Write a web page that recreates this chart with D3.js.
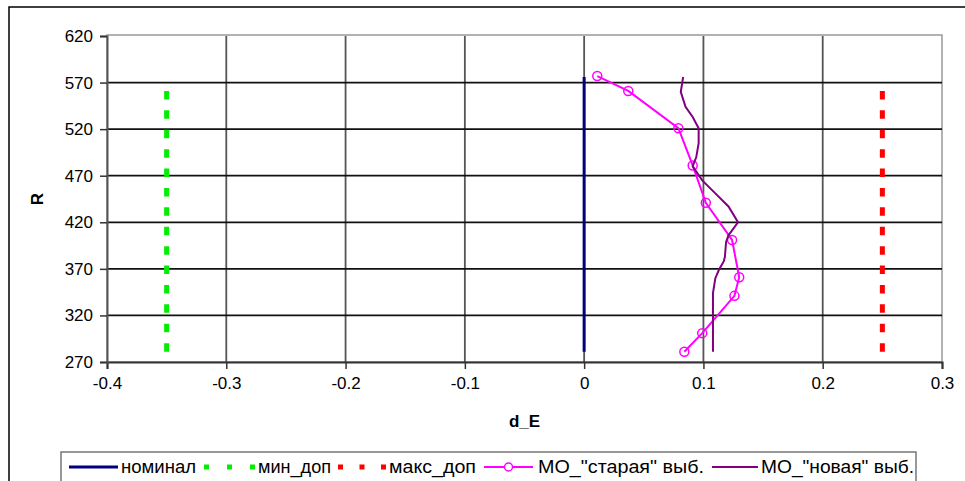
<!DOCTYPE html>
<html><head><meta charset="utf-8">
<script src="https://cdn.jsdelivr.net/npm/d3@7"></script>
<style>body{margin:0;background:#fff}svg{display:block;font-family:"Liberation Sans",Arial,sans-serif}</style>
</head><body><svg id="c" width="965" height="481"></svg>
<script>
const xTicks = [-0.4, -0.3, -0.2, -0.1, 0, 0.1, 0.2, 0.3];
const xTickLabels = ["-0.4", "-0.3", "-0.2", "-0.1", "0", "0.1", "0.2", "0.3"];
const yTicks = [270, 320, 370, 420, 470, 520, 570, 620];
const nominalE = [0, 0];
const nominalR = [281, 576];
const minE = [-0.35, -0.35];
const minR = [561, 281];
const maxE = [0.25, 0.25];
const maxR = [561, 281];
const oldR = [577, 561, 521, 481, 441, 401, 361, 341, 301, 281];
const oldE = [0.011, 0.037, 0.079, 0.091, 0.102, 0.124, 0.130, 0.126, 0.099, 0.084];
const newR = [576, 560, 544, 533, 521, 505, 490, 480, 465, 451, 437, 420, 406, 399, 383, 378, 369, 360, 344, 322, 281];
const newE = [0.083, 0.081, 0.085, 0.091, 0.096, 0.096, 0.094, 0.091, 0.099, 0.110, 0.121, 0.129, 0.121, 0.119, 0.118, 0.117, 0.113, 0.110, 0.108, 0.108, 0.108];
const legendLabels = ["номинал", "мин_доп", "макс_доп", "МО_\"старая\" выб.", "МО_\"новая\" выб."];

const svg = d3.select("#c");
const L = 107, R = 942, T = 36, B = 362;
const x = d3.scaleLinear().domain([-0.4, 0.3]).range([L, R]);
const y = d3.scaleLinear().domain([270, 620]).range([B, T]);

// outer chart border
svg.append("path").attr("d", "M9,482 L9,7 L966,7").attr("fill", "none").attr("stroke", "#000").attr("stroke-width", 1.5);

// plot border (light)
svg.append("rect").attr("x", L).attr("y", T - 1).attr("width", R - L).attr("height", B - T + 1)
  .attr("fill", "none").attr("stroke", "#999").attr("stroke-width", 1.5);

// vertical grid
svg.append("g").selectAll("line").data(xTicks.slice(1, -1)).join("line")
  .attr("x1", d => x(d)).attr("x2", d => x(d)).attr("y1", T).attr("y2", B)
  .attr("stroke", "#555").attr("stroke-width", 1.8);
// horizontal grid
svg.append("g").selectAll("line").data(yTicks.slice(1, -1)).join("line")
  .attr("x1", L).attr("x2", R).attr("y1", d => y(d)).attr("y2", d => y(d))
  .attr("stroke", "#111").attr("stroke-width", 1.8);

// axes
const xAxis = d3.axisBottom(x).tickValues(xTicks).tickSize(7).tickPadding(8)
  .tickFormat((d, i) => xTickLabels[i]);
const gx = svg.append("g").attr("transform", `translate(0,${B})`).call(xAxis);
gx.select(".domain").attr("stroke", "#333").attr("stroke-width", 2);
gx.selectAll(".tick line").attr("stroke", "#333").attr("stroke-width", 1.5);
gx.selectAll("text").attr("font-size", 17).attr("fill", "#000").attr("font-family", "Liberation Sans, Arial");

const yAxis = d3.axisLeft(y).tickValues(yTicks).tickSize(7).tickPadding(7);
const gy = svg.append("g").attr("transform", `translate(${L},0)`).call(yAxis);
gy.select(".domain").attr("stroke", "#555").attr("stroke-width", 2);
gy.selectAll(".tick line").attr("stroke", "#333").attr("stroke-width", 1.5);
gy.selectAll("text").attr("font-size", 17).attr("fill", "#000").attr("font-family", "Liberation Sans, Arial");

// axis titles
svg.append("text").attr("x", (L + R) / 2).attr("y", 427).attr("text-anchor", "middle")
  .attr("font-size", 17).attr("font-weight", "bold").text("d_E");
svg.append("text").attr("transform", `translate(43,${(T + B) / 2}) rotate(-90)`).attr("text-anchor", "middle")
  .attr("font-size", 17).attr("font-weight", "bold").text("R");

const line = d3.line().x(d => x(d[0])).y(d => y(d[1]));
const zip = (a, b) => a.map((v, i) => [v, b[i]]);

// min / max dotted
svg.append("path").datum(zip(minE, minR)).attr("d", line)
  .attr("fill", "none").attr("stroke", "#00ee00").attr("stroke-width", 5).attr("stroke-dasharray", "8.5,10.9");
svg.append("path").datum(zip(maxE, maxR)).attr("d", line)
  .attr("fill", "none").attr("stroke", "#ff0000").attr("stroke-width", 5).attr("stroke-dasharray", "8.5,10.9");

// nominal
svg.append("path").datum(zip(nominalE, nominalR)).attr("d", line)
  .attr("fill", "none").attr("stroke", "#000080").attr("stroke-width", 3);

// old sample
const oldPts = zip(oldE, oldR);
svg.append("path").datum(oldPts).attr("d", line)
  .attr("fill", "none").attr("stroke", "#ff00ff").attr("stroke-width", 2);
svg.append("g").selectAll("circle").data(oldPts).join("circle")
  .attr("cx", d => x(d[0])).attr("cy", d => y(d[1])).attr("r", 4.5)
  .attr("fill", "none").attr("stroke", "#ff00ff").attr("stroke-width", 1.5);

// new sample
svg.append("path").datum(zip(newE, newR)).attr("d", line)
  .attr("fill", "none").attr("stroke", "#800080").attr("stroke-width", 2);

// legend
const lg = svg.append("g");
lg.append("rect").attr("x", 61).attr("y", 452).attr("width", 855).attr("height", 40)
  .attr("fill", "#fff").attr("stroke", "#777").attr("stroke-width", 1.5);
const ly = 467;
const items = [
  {x0: 69, x1: 118, tx: 121, tw: 75, color: "#000080", w: 3, dash: null},
  {x0: 204, x1: 255, tx: 258, tw: 73, color: "#00ee00", w: 5, dash: "5,18"},
  {x0: 338, x1: 386, tx: 389, tw: 87, color: "#ff0000", w: 5, dash: "5,16.5"},
  {x0: 484, x1: 533, tx: 538, tw: 166, color: "#ff00ff", w: 2, dash: null, marker: true},
  {x0: 712, x1: 758, tx: 761, tw: 153, color: "#800080", w: 2, dash: null}
];
items.forEach((it, i) => {
  lg.append("line").attr("x1", it.x0).attr("x2", it.x1).attr("y1", ly).attr("y2", ly)
    .attr("stroke", it.color).attr("stroke-width", it.w).attr("stroke-dasharray", it.dash);
  if (it.marker) lg.append("circle").attr("cx", (it.x0 + it.x1) / 2).attr("cy", ly).attr("r", 4)
    .attr("fill", "#fff").attr("stroke", it.color).attr("stroke-width", 1.5);
  lg.append("text").attr("x", it.tx).attr("y", ly + 6).attr("font-size", 17.5)
    .attr("textLength", it.tw).attr("lengthAdjust", "spacingAndGlyphs").text(legendLabels[i]);
});
</script></body></html>
